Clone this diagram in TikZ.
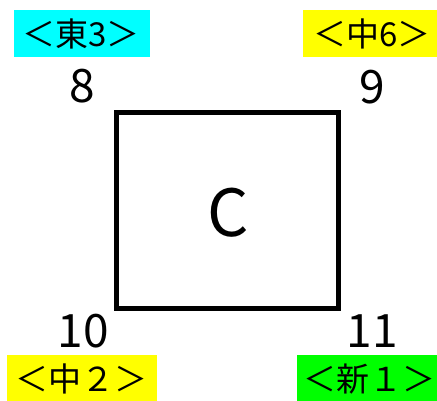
\documentclass[tikz,border=0pt]{standalone}
\usepackage{fontspec}
\setmainfont{Noto Sans CJK JP}
\newfontfamily\jpfont{Noto Sans CJK JP}
\definecolor{labcyan}{RGB}{0,255,255}
\definecolor{labyellow}{RGB}{255,255,0}
\definecolor{labgreen}{RGB}{0,255,0}
\begin{document}
\begin{tikzpicture}[x=1pt,y=-1pt,
  tag/.style={inner sep=0pt, outer sep=0pt, font=\jpfont\fontsize{33}{33}\selectfont},
  num/.style={inner sep=0pt, font=\jpfont\fontsize{46}{46}\selectfont},
  bigbox/.style={draw=black, line width=5pt}]
\useasboundingbox (0,0) rectangle (437,401);
% labels backgrounds
\fill[labcyan] (14,10) rectangle (150,57);
\fill[labyellow] (303,10) rectangle (437,57);
\fill[labyellow] (7,355) rectangle (157,401);
\fill[labgreen] (297,355) rectangle (437,401);
\node[tag] (t1) at (81,34) {＜東3＞};
\node[tag] (t2) at (372,34) {＜中6＞};
\node[tag] (t3) at (82,379) {＜中２＞};
\node[tag] (t4) at (369,379) {＜新１＞};
% numbers
\node[num] (n8) at (82.5,86) {8};
\node[num] (n9) at (372,87) {9};
\node[num] (n10) at (83,331) {10};
\node[num] (n11) at (372,331) {11};
% box
\draw[bigbox] (116.5,113) rectangle (338,308.5);
\node[inner sep=0pt, font=\jpfont\fontsize{65}{65}\selectfont] (c) at (228,213) {C};
\end{tikzpicture}
\end{document}
